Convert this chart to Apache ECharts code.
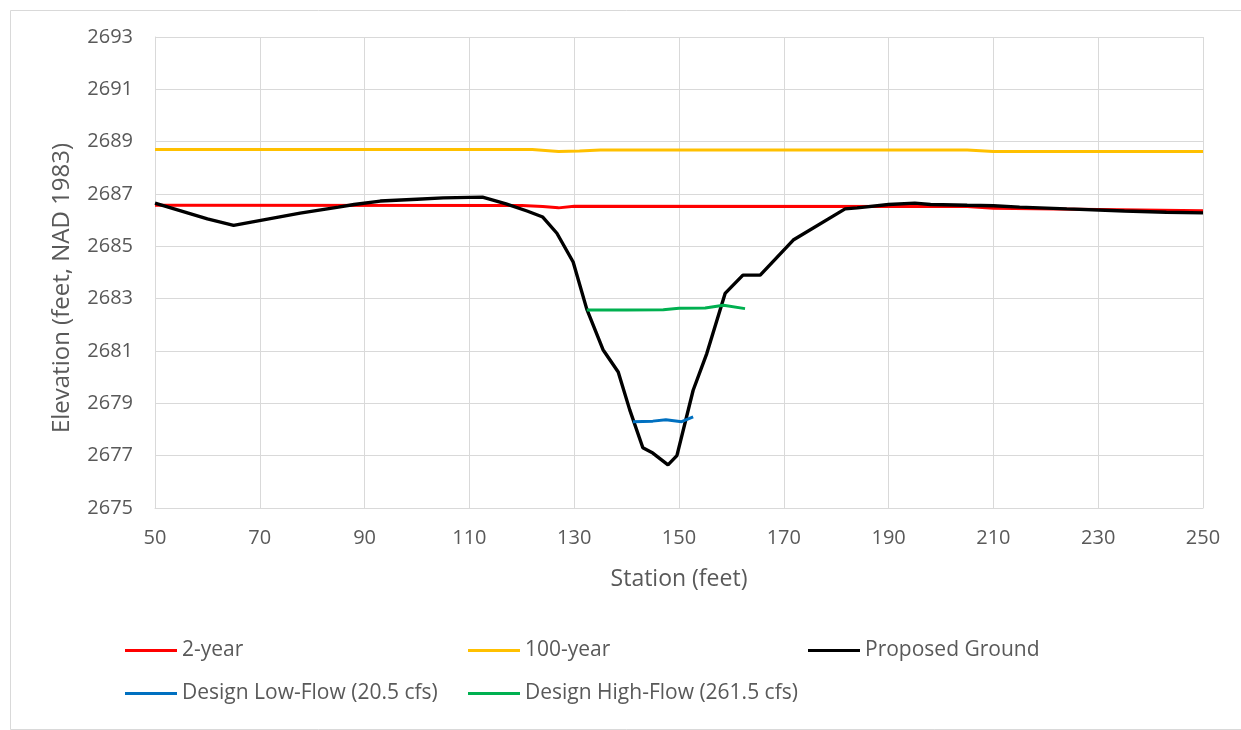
<!DOCTYPE html>
<html>
<head>
<meta charset="utf-8">
<script src="https://cdn.jsdelivr.net/npm/echarts@6/dist/echarts.min.js"></script>
<style>
html,body{margin:0;padding:0;background:#fff;}
#chart{width:1241px;height:730px;}
</style>
</head>
<body>
<div id="chart"></div>
<script>
// ---- Data ----
const xTicks = [50, 70, 90, 110, 130, 150, 170, 190, 210, 230, 250];
const yTicks = [2675, 2677, 2679, 2681, 2683, 2685, 2687, 2689, 2691, 2693];

const twoYearStation = [50, 120, 124, 127, 130, 205, 210, 250];
const twoYearElev    = [2686.57, 2686.56, 2686.52, 2686.47, 2686.53, 2686.52, 2686.46, 2686.36];

const hundredYearStation = [50, 122, 127, 131, 135, 205, 210, 250];
const hundredYearElev    = [2688.70, 2688.70, 2688.62, 2688.64, 2688.68, 2688.68, 2688.62, 2688.62];

const groundStation = [50, 60, 65, 77.7, 85, 88, 93, 100, 105, 112.5, 117, 121, 124, 126.7, 129.8, 132.4, 135.5, 138.4, 140.6, 143.1, 145, 147.9, 149.6, 152.7, 155.3, 158.8, 162.2, 165.5, 171.8, 181.7, 184, 190, 195, 198, 205, 210, 215, 224, 235, 243, 250];
const groundElev    = [2686.65, 2686.05, 2685.8, 2686.27, 2686.5, 2686.6, 2686.73, 2686.8, 2686.85, 2686.88, 2686.62, 2686.35, 2686.12, 2685.5, 2684.4, 2682.6, 2681.05, 2680.2, 2678.75, 2677.3, 2677.1, 2676.65, 2677.0, 2679.5, 2680.9, 2683.2, 2683.9, 2683.9, 2685.24, 2686.43, 2686.47, 2686.6, 2686.65, 2686.6, 2686.57, 2686.55, 2686.5, 2686.43, 2686.35, 2686.3, 2686.28];

const lowFlowStation = [141.2, 145, 147.5, 150.5, 152.7];
const lowFlowElev    = [2678.30, 2678.32, 2678.37, 2678.30, 2678.48];

const highFlowStation = [132.4, 140, 147, 150, 155, 158.5, 162.6];
const highFlowElev    = [2682.57, 2682.57, 2682.58, 2682.63, 2682.64, 2682.75, 2682.62];

const seriesNames = ['2-year', '100-year', 'Proposed Ground', 'Design Low-Flow (20.5 cfs)', 'Design High-Flow (261.5 cfs)'];
const seriesColors = ['#FF0000', '#FFC000', '#000000', '#0070C0', '#00B050'];

function pairs(xs, ys) { return xs.map((x, i) => [x, ys[i]]); }

const FONT = '"Open Sans", "Noto Sans", sans-serif';
const TXT = '#595959';

const chart = echarts.init(document.getElementById('chart'), null, {renderer: 'canvas'});

function mkSeries(name, color, data, width, z) {
  return {
    name: name, type: 'line', data: data, showSymbol: false, symbol: 'none',
    lineStyle: {color: color, width: width}, itemStyle: {color: color},
    z: z, animation: false
  };
}

function mkLegend(name, left, top) {
  return {
    data: [name], left: left, top: top, padding: 0, selectedMode: false,
    icon: 'rect', itemWidth: 52, itemHeight: 3,
    textStyle: {fontFamily: FONT, fontSize: 21, color: TXT}
  };
}

const option = {
  backgroundColor: '#ffffff',
  animation: false,
  grid: {left: 155, right: 38, top: 37, bottom: 222, containLabel: false},
  xAxis: {
    type: 'value', min: 50, max: 250, interval: 20,
    name: 'Station (feet)', nameLocation: 'middle', nameGap: 60,
    nameTextStyle: {fontFamily: FONT, fontSize: 23, color: TXT},
    axisLine: {show: true, lineStyle: {color: '#D9D9D9', width: 1}},
    axisTick: {show: false},
    axisLabel: {fontFamily: FONT, fontSize: 20, color: TXT, margin: 20},
    splitLine: {show: true, lineStyle: {color: '#D9D9D9', width: 1}}
  },
  yAxis: {
    type: 'value', min: 2675, max: 2693, interval: 2,
    axisLine: {show: true, lineStyle: {color: '#D9D9D9', width: 1}},
    axisTick: {show: false},
    axisLabel: {fontFamily: FONT, fontSize: 20, color: TXT, margin: 22,
      formatter: function (v) { return String(v); }},
    splitLine: {show: true, lineStyle: {color: '#D9D9D9', width: 1}}
  },
  legend: [
    mkLegend(seriesNames[0], 125, 640),
    mkLegend(seriesNames[1], 468, 640),
    mkLegend(seriesNames[2], 808, 640),
    mkLegend(seriesNames[3], 125, 683),
    mkLegend(seriesNames[4], 468, 683)
  ],
  graphic: [
    {type: 'rect', left: 8, top: 8, z: -10, silent: true,
      shape: {width: 1240, height: 719},
      style: {fill: 'none', stroke: '#D9D9D9', lineWidth: 1}},
    {type: 'text', x: 62, y: 288, rotation: Math.PI / 2, silent: true,
      style: {text: 'Elevation (feet, NAD 1983)', fontFamily: FONT, fontSize: 24, fill: TXT,
        align: 'center', verticalAlign: 'middle'}}
  ],
  series: [
    mkSeries(seriesNames[0], seriesColors[0], pairs(twoYearStation, twoYearElev), 3, 2),
    mkSeries(seriesNames[1], seriesColors[1], pairs(hundredYearStation, hundredYearElev), 3, 2),
    mkSeries(seriesNames[2], seriesColors[2], pairs(groundStation, groundElev), 3.4, 3),
    mkSeries(seriesNames[3], seriesColors[3], pairs(lowFlowStation, lowFlowElev), 3, 4),
    mkSeries(seriesNames[4], seriesColors[4], pairs(highFlowStation, highFlowElev), 3, 4)
  ]
};
chart.setOption(option);
</script>
</body>
</html>
